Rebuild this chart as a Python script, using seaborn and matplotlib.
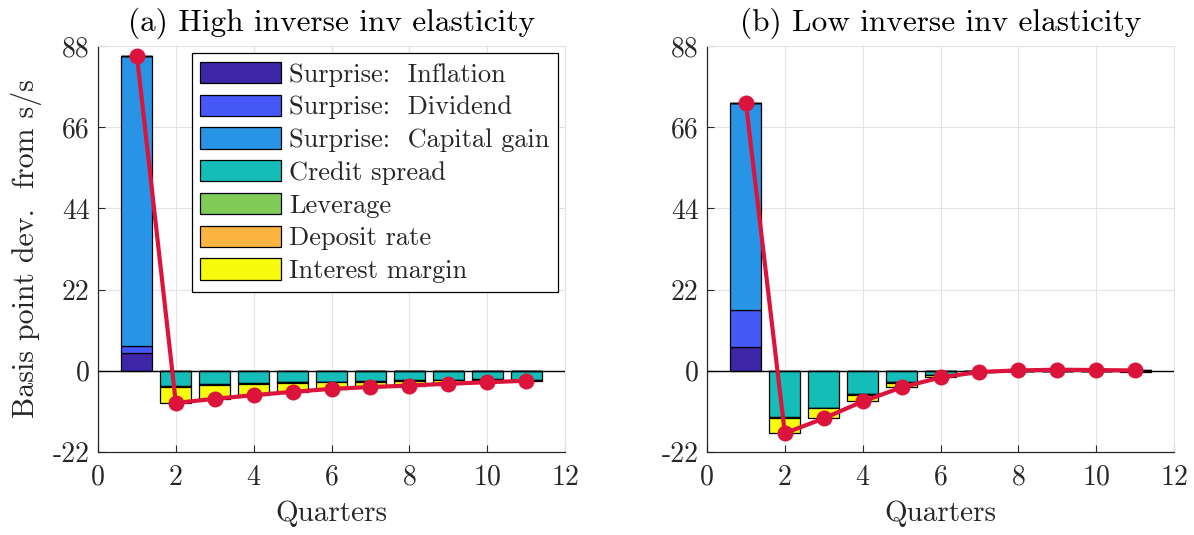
import numpy as np
import pandas as pd
import matplotlib
matplotlib.use("Agg")
import matplotlib.pyplot as plt
from matplotlib.patches import Patch
import seaborn as sns

# ---------------- data ----------------
quarters = [1, 2, 3, 4, 5, 6, 7, 8, 9, 10, 11]
component_names = ["Surprise: Inflation", "Surprise: Dividend", "Surprise: Capital gain",
                   "Credit spread", "Leverage", "Deposit rate", "Interest margin"]

# (a) High inverse inv elasticity
inflation_a = [4.8, 0, 0, 0, 0, 0, 0, 0, 0, 0, 0]
dividend_a = [2.0, 0, 0, 0, 0, 0, 0, 0, 0, 0, 0]
capgain_a = [78.6, 0, 0, 0, 0, 0, 0, 0, 0, 0, 0]
credit_a = [0, -4.0, -3.7, -3.4, -3.1, -2.9, -2.7, -2.5, -2.4, -2.3, -2.4]
leverage_a = [0, -0.3, -0.1, -0.1, -0.05, -0.05, 0, 0, 0, 0, 0]
deposit_a = [0, -0.1, -0.1, -0.1, -0.15, -0.15, -0.2, -0.2, -0.15, -0.1, -0.1]
margin_a = [0, -4.3, -3.7, -3.0, -2.4, -1.8, -1.5, -1.3, -0.95, -0.7, -0.2]
total_a = [85.4, -8.7, -7.6, -6.6, -5.7, -4.9, -4.4, -4.0, -3.5, -3.1, -2.7]

# (b) Low inverse inv elasticity
inflation_b = [6.4, 0, 0, 0, 0, 0, 0, 0, 0, 0, 0]
dividend_b = [10.1, 0, 0, 0, 0, 0, 0, 0, 0, 0, 0]
capgain_b = [56.1, 0, 0, 0, 0, 0, 0, 0, 0, 0, 0]
credit_b = [0, -12.6, -10.0, -6.3, -3.1, -1.2, -0.3, 0.15, 0.3, 0.25, 0.3]
leverage_b = [0, -0.2, -0.1, -0.1, -0.05, 0, 0, 0, 0, 0, 0]
deposit_b = [0, -0.1, -0.1, -0.1, -0.05, -0.05, 0.05, 0.05, 0.05, 0.05, 0.05]
margin_b = [0, -4.0, -2.7, -1.8, -1.3, -0.55, -0.05, -0.1, -0.05, -0.1, -0.25]
total_b = [72.6, -16.9, -12.9, -8.3, -4.5, -1.8, -0.3, 0.1, 0.3, 0.2, 0.1]

titles = ["(a) High inverse inv elasticity", "(b) Low inverse inv elasticity"]
yticks = [-22, 0, 22, 44, 66, 88]
xticks = [0, 2, 4, 6, 8, 10, 12]

colors = ["#3E26A8", "#4659F8", "#2894E6", "#14BDB8", "#80CB58", "#FCB441", "#F9FB0E"]
line_color = "#DC143C"

# ---------------- style ----------------
sns.set_theme(style="whitegrid")
plt.rcParams["font.family"] = ["cmr10", "DejaVu Serif"]
plt.rcParams["mathtext.fontset"] = "cm"
plt.rcParams["axes.unicode_minus"] = False
plt.rcParams["axes.formatter.use_mathtext"] = True

fig = plt.figure(figsize=(11.94, 5.35), dpi=100)
W, H = 1194, 535
ax_a = fig.add_axes([98 / W, (H - 452) / H, 467 / W, 406 / H])
ax_b = fig.add_axes([707 / W, (H - 452) / H, 467 / W, 406 / H])

panels = [
    (ax_a, [inflation_a, dividend_a, capgain_a, credit_a, leverage_a, deposit_a, margin_a], total_a),
    (ax_b, [inflation_b, dividend_b, capgain_b, credit_b, leverage_b, deposit_b, margin_b], total_b),
]

x = np.array(quarters, dtype=float)
for i, (ax, comps, total) in enumerate(panels):
    pos_base = np.zeros(len(x))
    neg_base = np.zeros(len(x))
    for comp, col in zip(comps, colors):
        v = np.array(comp, dtype=float)
        base = np.where(v >= 0, pos_base, neg_base)
        ax.bar(x, v, width=0.8, bottom=base, color=col, edgecolor="black",
               linewidth=0.9, zorder=2)
        pos_base = pos_base + np.where(v > 0, v, 0)
        neg_base = neg_base + np.where(v < 0, v, 0)
    ax.axhline(0, color="black", lw=1.0, zorder=3)
    df = pd.DataFrame({"q": quarters, "total": total})
    sns.lineplot(data=df, x="q", y="total", ax=ax, color=line_color, lw=3.0,
                 marker="o", markersize=11.5, markeredgewidth=0, zorder=4)

    ax.set_xlim(0, 12)
    ax.set_ylim(-22, 88)
    ax.set_xticks(xticks)
    ax.set_yticks(yticks)
    ax.set_xticklabels([str(t) for t in xticks])
    ax.set_yticklabels([str(t) for t in yticks])
    ax.tick_params(axis="both", direction="in", length=5, width=0.8, labelsize=20,
                   colors="#262626", labelcolor="#262626")
    ax.tick_params(axis="x", pad=9)
    ax.tick_params(axis="y", pad=6)
    ax.tick_params(top=False, right=False, bottom=True, left=True)
    ax.grid(True, color="#E3E3E3", lw=0.8, zorder=0)
    ax.set_axisbelow(True)
    for s in ["left", "bottom"]:
        ax.spines[s].set_color("#262626")
        ax.spines[s].set_linewidth(0.9)
    for s in ["top", "right"]:
        ax.spines[s].set_color("#E3E3E3")
        ax.spines[s].set_linewidth(0.8)
    ax.set_title(titles[i], fontsize=22.5, color="black", pad=11)
    ax.set_xlabel("Quarters", fontsize=21, color="#262626", labelpad=7)
    if i == 0:
        ax.set_ylabel("Basis point dev.  from s/s", fontsize=21.5, color="#262626", labelpad=8)
    else:
        ax.set_ylabel("")

handles = [Patch(facecolor=c, edgecolor="black", linewidth=0.9) for c in colors]
names_tex = [n.replace(": ", ":  ") for n in component_names]
leg = ax_a.legend(handles, names_tex, loc="upper right", fontsize=19,
                  frameon=True, fancybox=False, shadow=False, framealpha=1,
                  edgecolor="black", handlelength=3.05, handleheight=0.87,
                  handletextpad=0.3, labelspacing=0.3, borderpad=0.32,
                  borderaxespad=0.28)
leg.get_frame().set_linewidth(0.9)
leg.set_zorder(10)

fig.savefig("out.png", dpi=100)
